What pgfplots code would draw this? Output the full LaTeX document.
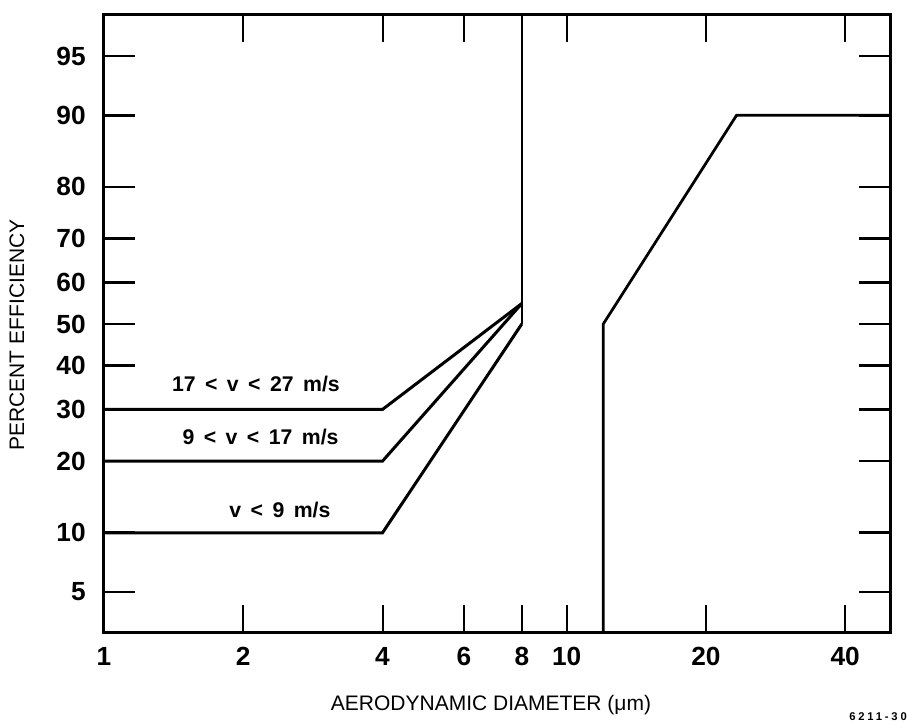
\documentclass[border=0pt]{standalone}
\usepackage{fontspec}
\setmainfont{Liberation Sans}
\newfontfamily\curvefont[WordSpace=1.6]{Liberation Sans}
\usepackage{pgfplots}
\pgfplotsset{compat=1.18}

% y values are probits (normal quantiles) of the percent efficiency
\pgfplotstableread{
x     y
1    -1.2816
4    -1.2816
8     0
}\lowv
\pgfplotstableread{
x     y
1    -0.8416
4    -0.8416
8     0.1257
}\midv
\pgfplotstableread{
x     y
1    -0.5244
4    -0.5244
8     0.1257
}\highv
\pgfplotstableread{
x     y
8     1.897
8     0
}\cutleft
\pgfplotstableread{
x     y
12   -1.891
12    0
23.3  1.2816
50    1.2816
}\cutright

\begin{document}
\begin{tikzpicture}
\useasboundingbox (-41.6pt,-37.2pt) rectangle (321.2pt,252.8pt);
\begin{axis}[
  at={(0pt,0pt)}, anchor=south west,
  scale only axis, width=314.4pt, height=246.8pt,
  xmode=log, log basis x=10,
  xmin=1, xmax=50,
  ymin=-1.891, ymax=1.897,
  axis line style={line width=1.2pt},
  tick align=inside,
  xtick={1,2,4,6,8,10,20,40},
  xticklabels={1,2,4,6,8,10,20,40},
  ytick={-1.6449,-1.2816,-0.8416,-0.5244,-0.2533,0,0.2533,0.5244,0.8416,1.2816,1.6449},
  yticklabels={5,10,20,30,40,50,60,70,80,90,95},
  minor tick num=0,
  xtick style={line width=0.8pt, black, /pgfplots/major tick length=10.8pt},
  ytick style={line width=1.1pt, black, /pgfplots/major tick length=12.4pt},
  /pgf/number format/assume math mode=true,
  tick label style={font=\fontsize{10.5}{11}\selectfont\bfseries},
  xticklabel style={anchor=north, yshift=-2.6pt},
  yticklabel style={anchor=east, xshift=-3.8pt},
  clip=false,
]
\addplot[black, line width=1.2pt] table {\lowv};
\addplot[black, line width=1.2pt] table {\midv};
\addplot[black, line width=1.2pt] table {\highv};
\addplot[black, line width=1pt] table {\cutleft};
\addplot[black, line width=1.1pt] table {\cutright};

\node[font=\curvefont\bfseries\fontsize{8.5}{9}\selectfont] at (axis cs:2.13,-0.368) {17 < v < 27 m/s};
\node[font=\curvefont\bfseries\fontsize{8.5}{9}\selectfont] at (axis cs:2.18,-0.694) {9 < v < 17 m/s};
\node[font=\curvefont\bfseries\fontsize{8.5}{9}\selectfont] at (axis cs:2.40,-1.142) {v < 9 m/s};
\end{axis}
\node[font=\fontsize{8.4}{10}\selectfont] at (154.8pt,-29.2pt) {AERODYNAMIC DIAMETER (μm)};
\node[font=\fontsize{8.4}{10}\selectfont, rotate=90] at (-34.8pt,118.8pt) {PERCENT EFFICIENCY};
\node[font=\fontsize{4.5}{5}\selectfont\bfseries\addfontfeature{LetterSpace=25}] at (309.6pt,-34pt) {6211-30};
\end{tikzpicture}
\end{document}
